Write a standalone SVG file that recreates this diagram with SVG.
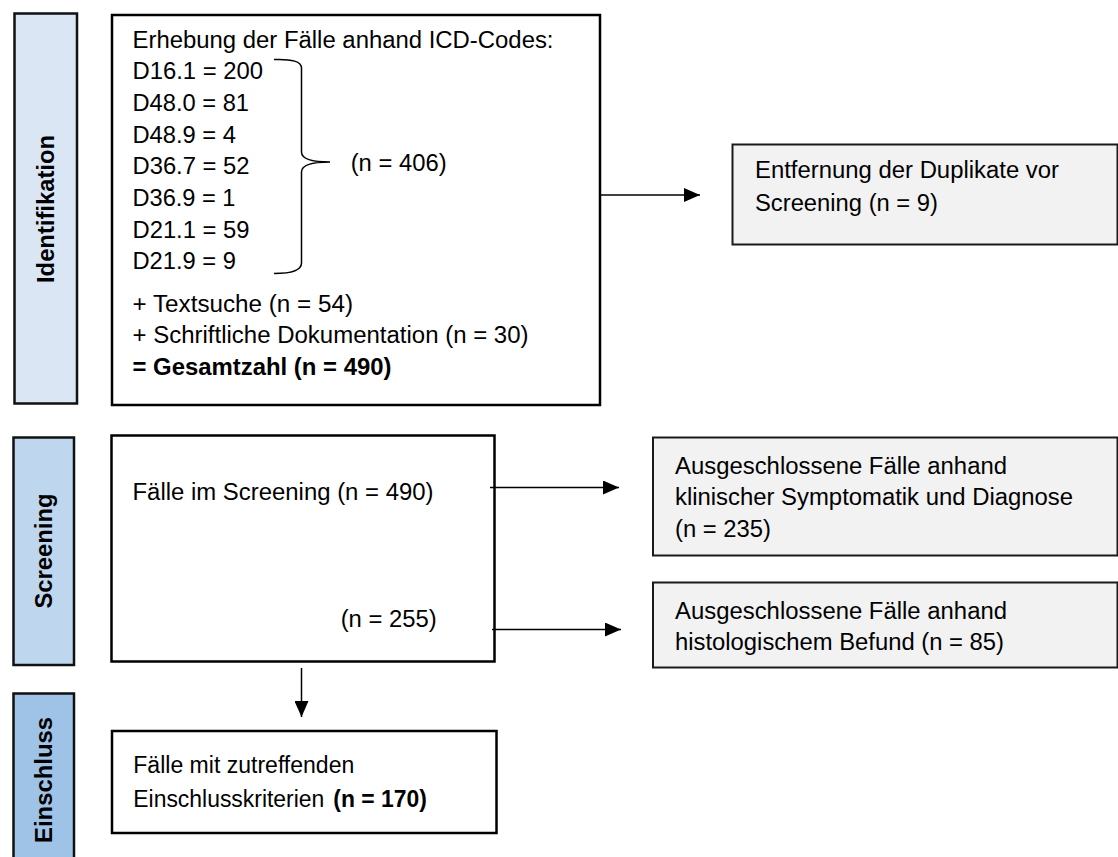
<svg xmlns="http://www.w3.org/2000/svg" width="1118" height="857" viewBox="0 0 1118 857">
  <style>
    .t { font-family: "Liberation Sans", Arial, sans-serif; font-size: 23px; fill: #000; }
    .b { font-weight: bold; }
    .box { fill: #fff; stroke: #000; stroke-width: 2.5; }
    .grey { fill: #f2f2f2; stroke: #1a1a1a; stroke-width: 2; }
    .side { stroke: #111; stroke-width: 2.5; }
    .conn { stroke: #000; stroke-width: 1.5; fill: none; }
  </style>
  <defs>
    <marker id="arr" markerUnits="userSpaceOnUse" markerWidth="16" markerHeight="14" refX="16" refY="7" orient="auto">
      <path d="M0,0 L16,7 L0,14 Z" fill="#000"/>
    </marker>
  </defs>
  <rect width="1118" height="857" fill="#fff"/>

  <g id="phase-identifikation">
    <rect class="side" x="14.5" y="13.5" width="62.5" height="390" fill="#dbe6f4"/>
    <text class="t b" transform="translate(53.5,209) rotate(-90)" text-anchor="middle" textLength="148" lengthAdjust="spacingAndGlyphs">Identifikation</text>
  </g>
  <g id="phase-screening">
    <rect class="side" x="13.5" y="437.5" width="60.5" height="227.5" fill="#bfd7ee"/>
    <text class="t b" transform="translate(51.5,551) rotate(-90)" text-anchor="middle" textLength="115" lengthAdjust="spacingAndGlyphs">Screening</text>
  </g>
  <g id="phase-einschluss">
    <rect class="side" x="13.5" y="693.5" width="60.5" height="175" fill="#9fc3e6"/>
    <text class="t b" transform="translate(51.5,780) rotate(-90)" text-anchor="middle" textLength="126" lengthAdjust="spacingAndGlyphs">Einschluss</text>
  </g>

  <g id="node-erhebung">
    <rect class="box" x="112" y="15" width="488" height="390"/>
    <text class="t" x="132.5" y="48.3" textLength="421" lengthAdjust="spacingAndGlyphs">Erhebung der Fälle anhand ICD-Codes:</text>
    <text class="t" x="132.5" y="79" textLength="130.5" lengthAdjust="spacingAndGlyphs">D16.1 = 200</text>
    <text class="t" x="132.5" y="111" textLength="116.5" lengthAdjust="spacingAndGlyphs">D48.0 = 81</text>
    <text class="t" x="132.5" y="142.7" textLength="103.5" lengthAdjust="spacingAndGlyphs">D48.9 = 4</text>
    <text class="t" x="132.5" y="174.3" textLength="117" lengthAdjust="spacingAndGlyphs">D36.7 = 52</text>
    <text class="t" x="132.5" y="206" textLength="103" lengthAdjust="spacingAndGlyphs">D36.9 = 1</text>
    <text class="t" x="132.5" y="237.7" textLength="117" lengthAdjust="spacingAndGlyphs">D21.1 = 59</text>
    <text class="t" x="132.5" y="269.3" textLength="103.5" lengthAdjust="spacingAndGlyphs">D21.9 = 9</text>
    <path class="conn" d="M274,59.5 Q301.5,58.5 301.5,68 L301.5,152 Q301.5,162 330,162 Q301.5,162 301.5,172 L301.5,263 Q301.5,273.5 274,273.5"/>
    <text class="t" x="350.7" y="171" textLength="96" lengthAdjust="spacingAndGlyphs">(n = 406)</text>
    <text class="t" x="132.5" y="311.7" textLength="220.5" lengthAdjust="spacingAndGlyphs">+ Textsuche (n = 54)</text>
    <text class="t" x="132.5" y="343" textLength="396" lengthAdjust="spacingAndGlyphs">+ Schriftliche Dokumentation (n = 30)</text>
    <text class="t b" x="132.5" y="375" textLength="259" lengthAdjust="spacingAndGlyphs">= Gesamtzahl (n = 490)</text>
  </g>

  <g id="node-duplikate">
    <rect class="grey" x="732.5" y="144.5" width="385" height="100"/>
    <text class="t" x="755" y="178" textLength="304" lengthAdjust="spacingAndGlyphs">Entfernung der Duplikate vor</text>
    <text class="t" x="755" y="211" textLength="183" lengthAdjust="spacingAndGlyphs">Screening (n = 9)</text>
  </g>

  <g id="node-screening">
    <rect class="box" x="111.5" y="435.5" width="383" height="226"/>
    <text class="t" x="132.5" y="500" textLength="301" lengthAdjust="spacingAndGlyphs">Fälle im Screening (n = 490)</text>
    <text class="t" x="340.7" y="627" textLength="96" lengthAdjust="spacingAndGlyphs">(n = 255)</text>
  </g>

  <g id="node-ausschluss-klinisch">
    <rect class="grey" x="653" y="437.5" width="464.5" height="118"/>
    <text class="t" x="675" y="473.5" textLength="332" lengthAdjust="spacingAndGlyphs">Ausgeschlossene Fälle anhand</text>
    <text class="t" x="675" y="505" textLength="398" lengthAdjust="spacingAndGlyphs">klinischer Symptomatik und Diagnose</text>
    <text class="t" x="675" y="536.5" textLength="96" lengthAdjust="spacingAndGlyphs">(n = 235)</text>
  </g>

  <g id="node-ausschluss-histologisch">
    <rect class="grey" x="653" y="582.5" width="464.5" height="85"/>
    <text class="t" x="675" y="619" textLength="332" lengthAdjust="spacingAndGlyphs">Ausgeschlossene Fälle anhand</text>
    <text class="t" x="675" y="650" textLength="329" lengthAdjust="spacingAndGlyphs">histologischem Befund (n = 85)</text>
  </g>

  <g id="node-einschluss">
    <rect class="box" x="112" y="731" width="384.5" height="102"/>
    <text class="t" x="133.3" y="773" textLength="221" lengthAdjust="spacingAndGlyphs">Fälle mit zutreffenden</text>
    <text class="t" x="133.3" y="806.7" textLength="191" lengthAdjust="spacingAndGlyphs">Einschlusskriterien</text>
    <text class="t b" x="333.3" y="806.7" textLength="93.5" lengthAdjust="spacingAndGlyphs">(n = 170)</text>
  </g>

  <g id="connectors">
    <line class="conn" x1="600" y1="195" x2="700" y2="195" marker-end="url(#arr)"/>
    <line class="conn" x1="490" y1="487.5" x2="619" y2="487.5" marker-end="url(#arr)"/>
    <line class="conn" x1="492" y1="629.5" x2="621" y2="629.5" marker-end="url(#arr)"/>
    <line class="conn" x1="301.5" y1="668" x2="301.5" y2="717" marker-end="url(#arr)"/>
  </g>
</svg>
